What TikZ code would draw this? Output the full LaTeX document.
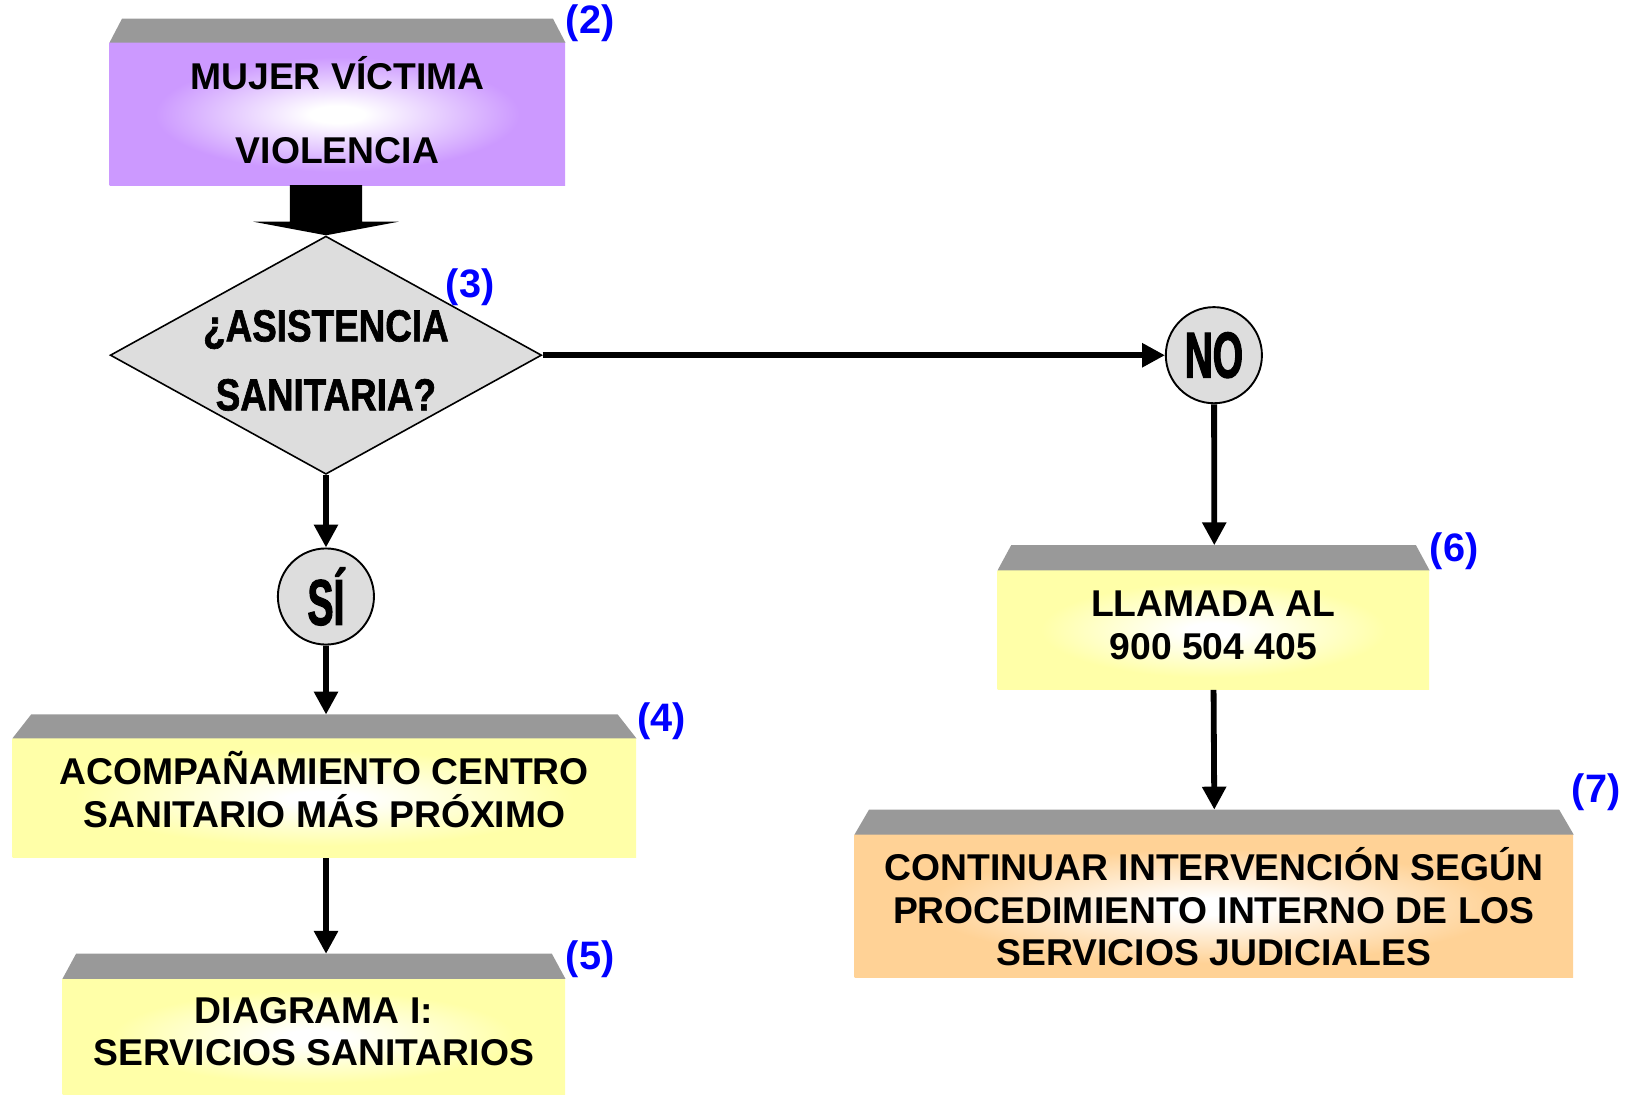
\documentclass[tikz,border=0pt]{standalone}
\usepackage{fontspec}
\setmainfont{Liberation Sans}
\newfontfamily\condfont[FakeStretch=0.82,BoldFeatures={FakeBold=1.4}]{Liberation Sans}
\newfontfamily\circfont[FakeStretch=0.6,BoldFeatures={FakeBold=1.8}]{Liberation Sans}
\usetikzlibrary{arrows.meta,shapes.geometric,calc}
\definecolor{cpurple}{RGB}{204,153,255}
\definecolor{cyellow}{RGB}{255,255,168}
\definecolor{corange}{RGB}{255,210,150}
\definecolor{ctop}{RGB}{153,153,153}
\definecolor{cgray}{RGB}{221,221,221}
\definecolor{clabel}{RGB}{0,0,255}
\pgfdeclareradialshading{glowP}{\pgfpoint{0bp}{0bp}}{color(0bp)=(white); color(3bp)=(white); color(20bp)=(cpurple); color(50bp)=(cpurple)}
\pgfdeclareradialshading{glowY}{\pgfpoint{0bp}{0bp}}{color(0bp)=(white); color(3bp)=(white); color(20bp)=(cyellow); color(50bp)=(cyellow)}
\pgfdeclareradialshading{glowO}{\pgfpoint{0bp}{0bp}}{color(0bp)=(white); color(3bp)=(white); color(20bp)=(corange); color(50bp)=(corange)}
\tikzset{
  boxbody/.style={rectangle, inner sep=0pt},
  boxtext/.style={inner sep=0pt, align=center, font=\fontsize{35.7}{41}\selectfont\bfseries},
  boxtop/.style={fill=ctop},
  numlabel/.style={text=clabel, font=\fontsize{38}{40}\selectfont\bfseries, inner sep=0pt},
  conn/.style={line width=5.8pt, -{Triangle[length=23pt,width=23pt]}},
  decision/.style={diamond, draw, line width=1.6pt, fill=cgray, inner sep=0pt},
  answer/.style={circle, draw, line width=1.9pt, fill=cgray, inner sep=0pt, minimum size=92pt, font=\circfont\bfseries\fontsize{62}{62}\selectfont},
}
\begin{document}
\begin{tikzpicture}[x=1pt,y=-1pt,scale=1.04464,every node/.append style={transform shape}]
\useasboundingbox (0,0) rectangle (1568,1049.16);
% box 2
\node[boxbody, shading=glowP, minimum width=436pt, minimum height=137pt] (b2) at (323,109.5) {};
\node[boxtext] (b2x) at (323,105.5) {MUJER VÍCTIMA\\[30pt]VIOLENCIA};
\fill[boxtop] (b2.north west) -- ($(b2.north west)+(12,-23)$) -- ($(b2.north east)+(-12,-23)$) -- (b2.north east) -- cycle;
\node[numlabel] (l2) at (565,22) {(2)};
% decision
\node[decision, minimum width=413pt, minimum height=228pt] (d3) at (312,340) {};
\node[font=\condfont\bfseries\fontsize{43}{66}\selectfont, align=center, inner sep=0pt] (d3t) at (312,345) {¿ASISTENCIA\\SANITARIA?};
\node[numlabel] (l3) at (450,275) {(3)};
% block arrow
\fill ($(d3.north)+(-34.5,-48)$) -- ($(d3.north)+(34.5,-48)$) -- ($(d3.north)+(34.5,-13)$) -- ($(d3.north)+(69.5,-13)$) -- (d3.north) -- ($(d3.north)+(-69.5,-13)$) -- ($(d3.north)+(-34.5,-13)$) -- cycle;
% answers
\node[answer] (no) at (1162,340) {NO};
\node[answer] (si) at (312,571) {SÍ};
% box 4
\node[boxbody, shading=glowY, minimum width=597pt, minimum height=114pt] (b4) at (310.5,764) {};
\node[boxtext] (b4x) at (310.5,755.5) {ACOMPAÑAMIENTO CENTRO\\SANITARIO MÁS PRÓXIMO};
\fill[boxtop] (b4.north west) -- ($(b4.north west)+(18,-23)$) -- ($(b4.north east)+(-18,-23)$) -- (b4.north east) -- cycle;
\coordinate (b4t) at ($(b4.north)+(1.5,-23)$);
\node[numlabel] (l4) at (633,690) {(4)};
% box 5
\node[boxbody, shading=glowY, minimum width=481pt, minimum height=111pt] (b5) at (300.5,992.5) {};
\node[boxtext] (b5x) at (300.5,987.5) {DIAGRAMA I:\\SERVICIOS SANITARIOS};
\fill[boxtop] (b5.north west) -- ($(b5.north west)+(13,-24)$) -- ($(b5.north east)+(-13,-24)$) -- (b5.north east) -- cycle;
\coordinate (b5t) at ($(b5.north)+(11.5,-24)$);
\node[numlabel] (l5) at (565,918) {(5)};
% box 6
\node[boxbody, shading=glowY, minimum width=413pt, minimum height=114pt] (b6) at (1161.5,603) {};
\node[boxtext] (b6x) at (1161.5,598.5) {LLAMADA AL\\900 504 405};
\fill[boxtop] (b6.north west) -- ($(b6.north west)+(13,-24)$) -- ($(b6.north east)+(-13,-24)$) -- (b6.north east) -- cycle;
\coordinate (b6t) at ($(b6.north)+(0.5,-24)$);
\node[numlabel] (l6) at (1392,528) {(6)};
% box 7
\node[boxbody, shading=glowO, minimum width=688pt, minimum height=137pt] (b7) at (1162,867.5) {};
\node[boxtext] (b7x) at (1162,868) {CONTINUAR INTERVENCIÓN SEGÚN\\PROCEDIMIENTO INTERNO DE LOS\\SERVICIOS JUDICIALES};
\fill[boxtop] (b7.north west) -- ($(b7.north west)+(14,-24)$) -- ($(b7.north east)+(-14,-24)$) -- (b7.north east) -- cycle;
\coordinate (b7t) at ($(b7.north)+(0,-24)$);
\node[numlabel] (l7) at (1528,758) {(7)};
% connectors
\draw[conn] (d3.east) -- (no.west);
\draw[conn] (no.south) -- (b6t);
\draw[conn] (b6.south) -- (b7t);
\draw[conn] (d3.south) -- (si.north);
\draw[conn] (si.south) -- (b4t);
\draw[conn] ($(b4.south)+(1.5,0)$) -- (b5t);
\end{tikzpicture}
\end{document}
